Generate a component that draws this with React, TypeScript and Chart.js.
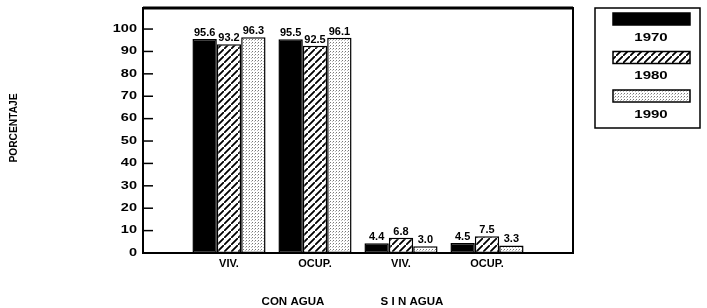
import React, { useEffect, useRef } from "react";
import { Chart, registerables } from "chart.js";

Chart.register(...registerables);

const categories = ["VIV.", "OCUP.", "VIV.", "OCUP."];
const years = ["1970", "1980", "1990"];
const values1970 = [95.6, 95.5, 4.4, 4.5];
const values1980 = [93.2, 92.5, 6.8, 7.5];
const values1990 = [96.3, 96.1, 3.0, 3.3];
const yTicks = [0, 10, 20, 30, 40, 50, 60, 70, 80, 90, 100];
const groupLabels = ["CON AGUA", "S I N AGUA"];
const groupLabelPos = [1.744, 3.128];
const yTitle = "PORCENTAJE";

const FONT = '"Liberation Sans", Arial, sans-serif';

function makeHatch(): CanvasPattern | string {
  const s = 7;
  const c = document.createElement("canvas");
  c.width = s;
  c.height = s;
  const g = c.getContext("2d");
  if (!g) return "#fff";
  g.fillStyle = "#fff";
  g.fillRect(0, 0, s, s);
  g.strokeStyle = "#000";
  g.lineWidth = 1.8;
  g.beginPath();
  g.moveTo(-1, s + 1);
  g.lineTo(s + 1, -1);
  g.moveTo(-s - 1, 1 + 0);
  g.lineTo(1, -s - 1);
  g.moveTo(s - 1, 2 * s + 1);
  g.lineTo(2 * s + 1, s - 1);
  g.stroke();
  return g.createPattern(c, "repeat") || "#fff";
}

function makeDots(): CanvasPattern | string {
  const c = document.createElement("canvas");
  c.width = 3;
  c.height = 3;
  const g = c.getContext("2d");
  if (!g) return "#ddd";
  g.fillStyle = "#fff";
  g.fillRect(0, 0, 3, 3);
  g.fillStyle = "#777";
  g.fillRect(0, 0, 1, 1);
  g.fillStyle = "#bbb";
  g.fillRect(2, 1, 1, 1);
  return g.createPattern(c, "repeat") || "#ddd";
}

function drawWide(
  ctx: CanvasRenderingContext2D,
  text: string,
  x: number,
  y: number,
  size: number,
  sx: number,
  align: CanvasTextAlign,
  baseline: CanvasTextBaseline
) {
  ctx.save();
  ctx.translate(x, y);
  ctx.scale(sx, 1);
  ctx.font = `bold ${size}px ${FONT}`;
  ctx.textAlign = align;
  ctx.textBaseline = baseline;
  ctx.fillStyle = "#000";
  ctx.fillText(text, 0, 0);
  ctx.restore();
}

export default function App() {
  const ref = useRef<HTMLCanvasElement | null>(null);

  useEffect(() => {
    document.body.style.margin = "0";
    const canvas = ref.current;
    if (!canvas) return;
    const hatch = makeHatch();
    const dots = makeDots();
    const fills: any[] = ["#000", hatch, dots];
    const pad = (a: number[]) => [null, ...a, null];
    const series = [values1970, values1980, values1990];

    const overlay = {
      id: "overlay",
      afterDatasetsDraw(chart: any) {
        const ctx = chart.ctx as CanvasRenderingContext2D;
        const ca = chart.chartArea;
        const ys = chart.scales.y;
        const xs = chart.scales.x;
        ctx.save();
        // value labels
        chart.data.datasets.forEach((ds: any, i: number) => {
          const meta = chart.getDatasetMeta(i);
          meta.data.forEach((bar: any, j: number) => {
            const v = ds.data[j];
            if (v == null) return;
            drawWide(ctx, Number(v).toFixed(1), bar.x, bar.y - 1, 10, 1.1, "center", "bottom");
          });
        });
        // frame
        ctx.strokeStyle = "#000";
        ctx.lineWidth = 2;
        ctx.strokeRect(ca.left, ca.top, ca.right - ca.left, ca.bottom - ca.top);
        ctx.lineWidth = 3;
        ctx.beginPath();
        ctx.moveTo(ca.left, ca.top);
        ctx.lineTo(ca.right, ca.top);
        ctx.stroke();
        // inward ticks and tick labels
        ctx.lineWidth = 1.5;
        yTicks.forEach((t) => {
          const y = ys.getPixelForValue(t);
          ctx.beginPath();
          ctx.moveTo(ca.left, y);
          ctx.lineTo(ca.left + 10, y);
          ctx.stroke();
          drawWide(ctx, String(t), ca.left - 6, y, 10, 1.45, "right", "middle");
        });
        // group labels
        groupLabels.forEach((l, i) => {
          drawWide(ctx, l, xs.getPixelForValue(groupLabelPos[i]), 302, 11, 1.05, "center", "middle");
        });
        // y title
        ctx.save();
        ctx.translate(14, 128);
        ctx.rotate(-Math.PI / 2);
        ctx.font = `bold 10px ${FONT}`;
        const w = ctx.measureText(yTitle).width;
        ctx.scale(69 / w, 1);
        ctx.textAlign = "center";
        ctx.textBaseline = "middle";
        ctx.fillStyle = "#000";
        ctx.fillText(yTitle, 0, 0);
        ctx.restore();
        // legend
        ctx.strokeStyle = "#000";
        ctx.lineWidth = 1.5;
        ctx.strokeRect(595, 8, 105, 120);
        years.forEach((yr, i) => {
          const top = 13 + i * 38.5;
          ctx.fillStyle = fills[i];
          ctx.fillRect(613, top, 77, 12);
          ctx.strokeStyle = "#000";
          ctx.lineWidth = 1.5;
          ctx.strokeRect(613, top, 77, 12);
          drawWide(ctx, yr, 651, top + 25, 10, 1.5, "center", "middle");
        });
        ctx.restore();
      },
    };

    const chart = new Chart(canvas, {
      type: "bar",
      data: {
        labels: ["", ...categories, ""],
        datasets: years.map((yr, i) => ({
          label: yr,
          data: pad(series[i]) as any,
          backgroundColor: fills[i],
          borderColor: "#000",
          borderWidth: 1.5,
          borderSkipped: false,
          barPercentage: 1,
          categoryPercentage: 0.85,
        })),
      },
      options: {
        animation: false,
        responsive: false,
        maintainAspectRatio: false,
        layout: { padding: { left: 0, top: 8, right: 134, bottom: 0 } },
        plugins: { legend: { display: false }, tooltip: { enabled: false } },
        scales: {
          x: {
            type: "category",
            offset: false,
            grid: { display: false, drawTicks: false },
            border: { display: false },
            ticks: {
              autoSkip: false,
              maxRotation: 0,
              padding: 4,
              color: "#000",
              font: { family: FONT, size: 11, weight: "bold" },
            },
            afterFit(scale: any) {
              scale.height = 55;
            },
          },
          y: {
            min: 0,
            max: 109.4,
            grid: { display: false, drawTicks: false },
            border: { display: false },
            afterBuildTicks(scale: any) {
              scale.ticks = yTicks.map((v) => ({ value: v }));
            },
            ticks: { display: false },
            afterFit(scale: any) {
              scale.width = 143;
            },
          },
        },
      },
      plugins: [overlay],
    });
    return () => chart.destroy();
  }, []);

  return (
    <div style={{ width: 707, height: 308, background: "#fff" }}>
      <canvas ref={ref} width={707} height={308} style={{ display: "block" }} />
    </div>
  );
}
